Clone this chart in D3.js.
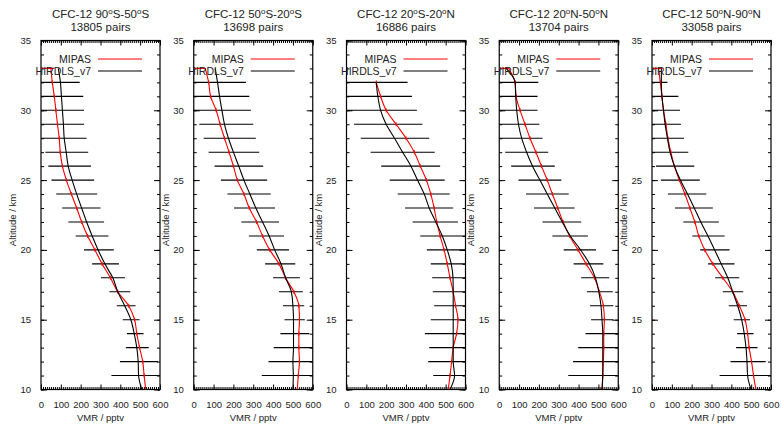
<!DOCTYPE html>
<html>
<head>
<meta charset="utf-8">
<script src="https://cdn.jsdelivr.net/npm/d3@7"></script>
<style>
  body { margin: 0; background: #fff; }
  text { font-family: "Liberation Sans", Arial, sans-serif; fill: #222; }
</style>
</head>
<body>
<svg width="781" height="428"></svg>
<script>
// altitude levels, top to bottom (km)
var alts = [33,32,31,30,29,28,27,26,25,24,23,22,21,20,19,18,17,16,15,14,13,12,11,10];

var regions = ["90°S-50°S", "50°S-20°S", "20°S-20°N", "20°N-50°N", "50°N-90°N"];
var pairs = [13805, 13698, 16886, 13704, 33058];

// MIPAS mean profiles (pptv)
var mipas = [
  [50,57,67,75,83,92,97,108,128,153,180,205,235,272,308,350,387,442,472,483,497,513,520,528],
  [58,75,85,113,133,155,178,200,220,253,280,317,347,383,430,463,505,530,533,530,530,533,527,522],
  [null,150,172,200,250,300,342,372,403,425,442,455,472,492,508,522,538,550,562,555,538,530,522,513],
  [47,80,85,105,130,155,185,213,242,268,295,322,355,397,438,480,505,525,530,527,527,525,522,518],
  [33,42,50,58,70,80,95,113,138,166,191,216,236,266,307,357,407,440,469,482,490,502,512,524]
];

// HIRDLS_v7 mean profiles (pptv)
var hirdls = [
  [87,98,103,108,113,117,127,137,157,180,205,230,258,288,322,362,387,422,453,470,483,490,492,508],
  [108,120,130,142,155,175,200,227,253,283,313,347,380,408,440,463,492,500,503,503,503,500,502,500],
  [null,150,158,172,200,242,283,325,358,392,417,450,483,508,528,537,538,538,538,538,538,538,545,522],
  [35,80,83,88,97,113,138,168,205,242,280,318,358,410,455,485,502,513,518,522,522,522,522,518],
  [47,47,50,58,66,78,91,113,143,179,213,246,282,316,349,382,407,432,452,465,474,479,482,499]
];

// spread bars: low and high ends (pptv), null where no bar
var errLo = [
  [null,-10,-10,-10,-10,-10,22,37,53,77,107,138,175,217,258,302,345,382,412,433,428,398,355,null],
  [null,-20,-20,-5,28,50,75,105,137,170,203,240,278,318,360,400,430,450,458,437,403,377,343,null],
  [null,-10,-10,-10,38,72,122,175,218,258,295,333,372,405,425,432,435,442,425,395,417,412,437,null],
  [null,-10,-10,-10,-10,-10,30,60,97,135,175,218,268,325,375,413,442,458,463,435,398,372,348,null],
  [null,-10,-10,-10,-10,-10,-1,20,45,80,116,158,203,243,283,319,357,387,412,429,424,396,341,null]
];
var errHi = [
  [null,195,213,217,217,230,238,252,268,283,300,318,340,367,393,423,450,477,497,517,543,590,630,null],
  [null,263,280,288,300,313,330,350,370,388,410,430,455,480,512,535,550,557,560,583,610,630,660,null],
  [null,308,330,355,383,417,445,472,495,520,538,562,610,611,631,642,641,634,651,681,659,664,653,null],
  [null,197,193,193,202,218,247,280,313,350,380,413,447,488,525,555,572,575,575,610,645,672,695,null],
  [null,78,133,141,146,161,183,213,241,274,307,337,366,391,416,440,460,479,494,512,532,573,623,null]
];

// short red segment at the top level (pptv end point)
var topSeg = [67, 58, null, 52, 53];

var xTicks = [0,100,200,300,400,500,600];
var yTicks = [10,15,20,25,30,35];

var svg = d3.select("svg");
var panelW = 119, plotTop = 40.5, plotBottom = 389.5;

regions.forEach(function(region, p) {
  var x0 = 41 + p * 152.75;
  var g = svg.append("g").attr("transform", "translate(" + x0 + "," + plotTop + ")");
  var h = plotBottom - plotTop;

  var xScale = d3.scaleLinear().domain([0, 600]).range([0, panelW]);
  var yScale = d3.scaleLinear().domain([10, 35]).range([h, 0]);

  g.append("clipPath").attr("id", "clip" + p)
    .append("rect").attr("width", panelW).attr("height", h);

  // title
  var t = svg.append("text")
    .attr("x", x0 + panelW / 2).attr("y", 18)
    .attr("text-anchor", "middle").style("font-size", "11.5px");
  var parts = region.split("°");
  t.append("tspan").text("CFC-12 " + parts[0]);
  for (var k = 1; k < parts.length; k++) {
    t.append("tspan").attr("dy", -4).style("font-size", "8px").text("o");
    t.append("tspan").attr("dy", 4).text(parts[k]);
  }
  svg.append("text")
    .attr("x", x0 + panelW / 2).attr("y", 31)
    .attr("text-anchor", "middle").style("font-size", "11.5px")
    .text(pairs[p] + " pairs");

  // axes
  var xMinor = d3.range(0, 601, 10);
  var yMinor = d3.range(10, 36, 1);

  g.append("g").attr("transform", "translate(0," + h + ")")
    .call(d3.axisBottom(xScale).tickValues(xMinor).tickSize(-2.5).tickFormat(""));
  g.append("g").attr("transform", "translate(0," + h + ")")
    .call(d3.axisBottom(xScale).tickValues(xTicks).tickSize(-5).tickPadding(12));
  g.append("g")
    .call(d3.axisTop(xScale).tickValues(xMinor).tickSize(-2.5).tickFormat(""));
  g.append("g")
    .call(d3.axisTop(xScale).tickValues(xTicks).tickSize(-5).tickFormat(""));

  g.append("g")
    .call(d3.axisLeft(yScale).tickValues(yMinor).tickSize(-3).tickFormat(""));
  g.append("g")
    .call(d3.axisLeft(yScale).tickValues(yTicks).tickSize(-6).tickPadding(10));
  g.append("g").attr("transform", "translate(" + panelW + ",0)")
    .call(d3.axisRight(yScale).tickValues(yMinor).tickSize(-3).tickFormat(""));
  g.append("g").attr("transform", "translate(" + panelW + ",0)")
    .call(d3.axisRight(yScale).tickValues(yTicks).tickSize(-6).tickFormat(""));

  g.selectAll(".domain").remove();
  g.selectAll(".tick line").attr("stroke", "#000");
  g.selectAll(".tick text").style("font-size", "9.5px").style("font-family", "Liberation Sans, Arial, sans-serif").attr("fill", "#222");

  g.append("rect").attr("width", panelW).attr("height", h)
    .attr("fill", "none").attr("stroke", "#000").attr("stroke-width", 1.2);

  // axis labels
  svg.append("text")
    .attr("x", x0 + panelW / 2).attr("y", 421)
    .attr("text-anchor", "middle").style("font-size", "9.5px")
    .text("VMR / pptv");
  svg.append("text")
    .attr("transform", "translate(" + (x0 - 25) + ",220) rotate(-90)")
    .attr("text-anchor", "middle").style("font-size", "9.5px")
    .text("Altitude / km");

  var plot = g.append("g").attr("clip-path", "url(#clip" + p + ")");

  var rows = alts.map(function(a, i) {
    return {alt: a, m: mipas[p][i], hd: hirdls[p][i], lo: errLo[p][i], hi: errHi[p][i]};
  });
  var bars = rows.filter(function(d) { return d.lo != null; });

  // spread bars
  plot.selectAll(".bar").data(bars).enter().append("line")
    .attr("class", "bar")
    .attr("x1", function(d) { return xScale(d.lo); })
    .attr("x2", function(d) { return xScale(d.hi); })
    .attr("y1", function(d) { return yScale(d.alt); })
    .attr("y2", function(d) { return yScale(d.alt); })
    .attr("stroke", "#000").attr("stroke-width", 1.1);

  if (topSeg[p] != null) {
    plot.append("line")
      .attr("x1", xScale(0)).attr("x2", xScale(topSeg[p]))
      .attr("y1", yScale(alts[0])).attr("y2", yScale(alts[0]))
      .attr("stroke", "red").attr("stroke-width", 1.1);
  }

  var line = function(key) {
    return d3.line()
      .defined(function(d) { return d[key] != null; })
      .x(function(d) { return xScale(d[key]); })
      .y(function(d) { return yScale(d.alt); })
      .curve(d3.curveMonotoneY);
  };

  plot.append("path").datum(rows)
    .attr("d", line("m")).attr("fill", "none")
    .attr("stroke", "red").attr("stroke-width", 1.1);

  // small red marks where MIPAS crosses each bar
  plot.selectAll(".mk").data(bars).enter().append("line")
    .attr("class", "mk")
    .attr("x1", function(d) { return xScale(d.m); })
    .attr("x2", function(d) { return xScale(d.m); })
    .attr("y1", function(d) { return yScale(d.alt) - 2; })
    .attr("y2", function(d) { return yScale(d.alt) + 2; })
    .attr("stroke", "red").attr("stroke-width", 1);

  plot.append("path").datum(rows)
    .attr("d", line("hd")).attr("fill", "none")
    .attr("stroke", "#000").attr("stroke-width", 1.1);

  // legend
  var leg = [["MIPAS", "red"], ["HIRDLS_v7", "#000"]];
  leg.forEach(function(l, i) {
    var ly = 59 + i * 12;
    svg.append("text")
      .attr("x", x0 + 50).attr("y", ly + 4)
      .attr("text-anchor", "end").style("font-size", "10.5px")
      .text(l[0]);
    svg.append("line")
      .attr("x1", x0 + 57).attr("x2", x0 + 101)
      .attr("y1", ly).attr("y2", ly)
      .attr("stroke", l[1]).attr("stroke-width", 1.1);
  });
});
</script>
</body>
</html>
